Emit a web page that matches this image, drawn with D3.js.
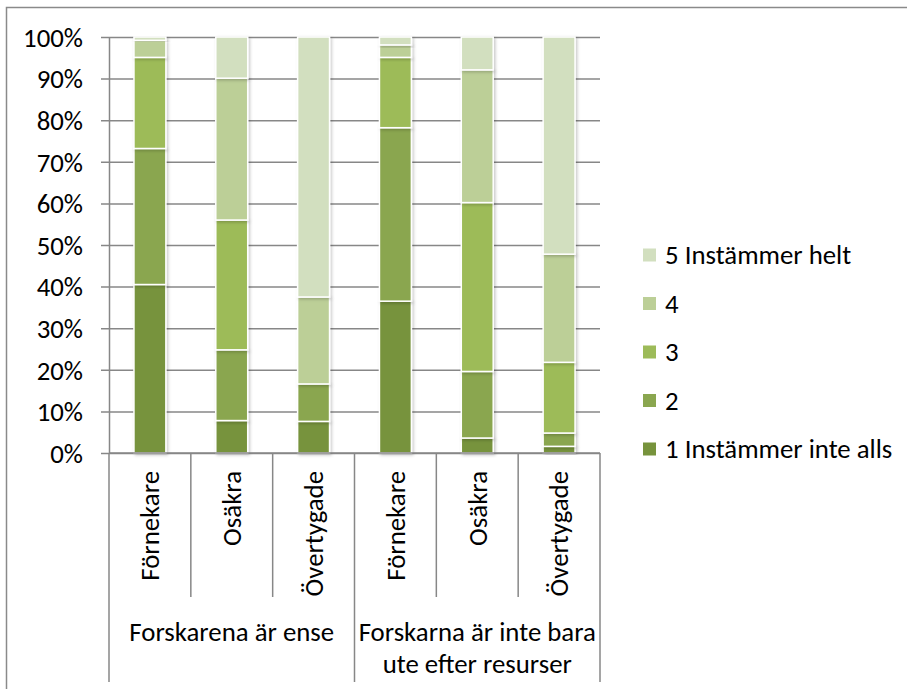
<!DOCTYPE html>
<html>
<head>
<meta charset="utf-8">
<script src="https://cdn.jsdelivr.net/npm/d3@7"></script>
<style>
  html, body { margin: 0; padding: 0; background: #fff; }
  svg { display: block; font-family: Carlito, Lato, "Open Sans", sans-serif; }
</style>
</head>
<body>
<svg id="chart" width="907" height="689"></svg>
<script>
// data (percent of answers)
const groups = ["Forskarena är ense", "Forskarna är inte bara ute efter resurser"];
const subCategories = ["Förnekare", "Osäkra", "Övertygade"];
const categories = ["Förnekare|0", "Osäkra|0", "Övertygade|0", "Förnekare|1", "Osäkra|1", "Övertygade|1"];
const seriesNames = ["1 Instämmer inte alls", "2", "3", "4", "5 Instämmer helt"];
const seriesColors = ["#77933c", "#8aa64f", "#9dbb59", "#bccf97", "#d2dfbf"];
const s1 = [40.5, 7.8, 7.6, 36.5, 3.6, 1.6];
const s2 = [32.7, 17.0, 9.0, 41.7, 16.0, 3.2];
const s3 = [21.9, 31.2, 0, 16.9, 40.6, 17.0];
const s4 = [4.1, 34.1, 20.9, 3.0, 31.9, 26.0];
const s5 = [0.8, 9.9, 62.5, 1.9, 7.9, 52.2];
const yTicks = [0, 10, 20, 30, 40, 50, 60, 70, 80, 90, 100];

const seriesValues = [s1, s2, s3, s4, s5];
const rows = categories.map((c, i) => {
  let r = {cat: c};
  seriesNames.forEach((s, k) => { r[s] = seriesValues[k][i]; });
  return r;
});

const svg = d3.select("#chart");
const fontSize = 26.8;
const gridColor = "#878787";

// outer frame (only top and left edge visible in the original)
svg.append("rect")
  .attr("x", 6.5).attr("y", 7.5)
  .attr("width", 1000).attr("height", 1000)
  .attr("fill", "none").attr("stroke", "#8a8a8a").attr("stroke-width", 1.5);

const plot = {left: 109, right: 600, top: 37, bottom: 453};

let x = d3.scaleBand()
  .domain(categories)
  .range([plot.left, plot.right])
  .paddingInner(0.61)
  .paddingOuter(0.305);

let y = d3.scaleLinear().domain([0, 100]).range([plot.bottom, plot.top]);

// drop shadow like excel
const defs = svg.append("defs");
defs.append("filter").attr("id", "shadow")
  .attr("x", "-20%").attr("y", "-20%").attr("width", "150%").attr("height", "150%")
  .append("feDropShadow")
  .attr("dx", 1.5).attr("dy", 1.5).attr("stdDeviation", 1.5)
  .attr("flood-color", "#000").attr("flood-opacity", 0.22);

// gridlines + y axis
let yAxis = d3.axisLeft(y)
  .tickValues(yTicks)
  .tickFormat((d) => d + "%")
  .tickSizeInner(-(plot.right - plot.left))
  .tickSizeOuter(0)
  .tickPadding(26);

let yg = svg.append("g")
  .attr("transform", `translate(${plot.left},0)`)
  .call(yAxis);
yg.select(".domain").attr("stroke", gridColor).attr("stroke-width", 1.5);
yg.selectAll(".tick line").attr("stroke", gridColor).attr("stroke-width", 1.5).attr("x1", -8);
yg.selectAll(".tick text")
  .attr("font-size", fontSize)
  .attr("font-family", "Carlito, Lato, 'Open Sans', sans-serif")
  .attr("fill", "#000")
  .attr("dy", "0.35em");

// stacked bars
let stack = d3.stack().keys(seriesNames);
let layers = stack(rows);

svg.append("g").selectAll("g")
  .data(layers)
  .enter()
  .append("g")
  .attr("fill", (d, i) => seriesColors[i])
  .selectAll("rect")
  .data((d) => d.filter((v) => v[1] - v[0] > 0))
  .enter()
  .append("rect")
  .attr("x", (d) => x(d.data.cat))
  .attr("y", (d) => y(d[1]))
  .attr("width", x.bandwidth())
  .attr("height", (d) => y(d[0]) - y(d[1]))
  .attr("stroke", "#fff")
  .attr("stroke-width", 1.5)
  .attr("filter", "url(#shadow)");

// x axis, two levels
let xg = svg.append("g");
xg.append("line")
  .attr("x1", plot.left).attr("x2", plot.right)
  .attr("y1", plot.bottom).attr("y2", plot.bottom)
  .attr("stroke", gridColor).attr("stroke-width", 1.5);

const step = x.step();
categories.forEach((c, i) => {
  let left = x(c) - (step - x.bandwidth()) / 2;
  // separators: long at group edge, short inside group
  let isGroupEdge = (i % subCategories.length === 0);
  xg.append("line")
    .attr("x1", left).attr("x2", left)
    .attr("y1", plot.bottom).attr("y2", isGroupEdge ? 682 : 597)
    .attr("stroke", gridColor).attr("stroke-width", 1.5);

  let cx = x(c) + x.bandwidth() / 2;
  xg.append("text")
    .attr("transform", `translate(${cx},471) rotate(-90)`)
    .attr("text-anchor", "end")
    .attr("dy", "0.35em")
    .attr("font-size", fontSize)
    .text(c.split("|")[0]);
});
xg.append("line")
  .attr("x1", plot.right).attr("x2", plot.right)
  .attr("y1", plot.bottom).attr("y2", 682)
  .attr("stroke", gridColor).attr("stroke-width", 1.5);

// group labels, wrapped like excel
const groupLines = [["Forskarena är ense"], ["Forskarna är inte bara", "ute efter resurser"]];
groups.forEach((g, gi) => {
  let first = x(categories[gi * 3]);
  let last = x(categories[gi * 3 + 2]) + x.bandwidth();
  let cx = (first + last) / 2;
  let t = xg.append("text")
    .attr("text-anchor", "middle")
    .attr("font-size", fontSize);
  groupLines[gi].forEach((ln, li) => {
    t.append("tspan").attr("x", cx).attr("y", 641 + li * 32).text(ln);
  });
});

// legend, top item is series 5
let legend = svg.append("g");
const legendOrder = seriesNames.slice().reverse();
let ly = d3.scalePoint().domain(legendOrder).range([255, 449]);
legendOrder.forEach((s) => {
  let k = seriesNames.indexOf(s);
  legend.append("rect")
    .attr("x", 643).attr("y", ly(s) - 6.5)
    .attr("width", 13).attr("height", 13)
    .attr("fill", seriesColors[k]);
  legend.append("text")
    .attr("x", 665).attr("y", ly(s))
    .attr("dy", "0.35em")
    .attr("font-size", fontSize)
    .text(s);
});
</script>
</body>
</html>
